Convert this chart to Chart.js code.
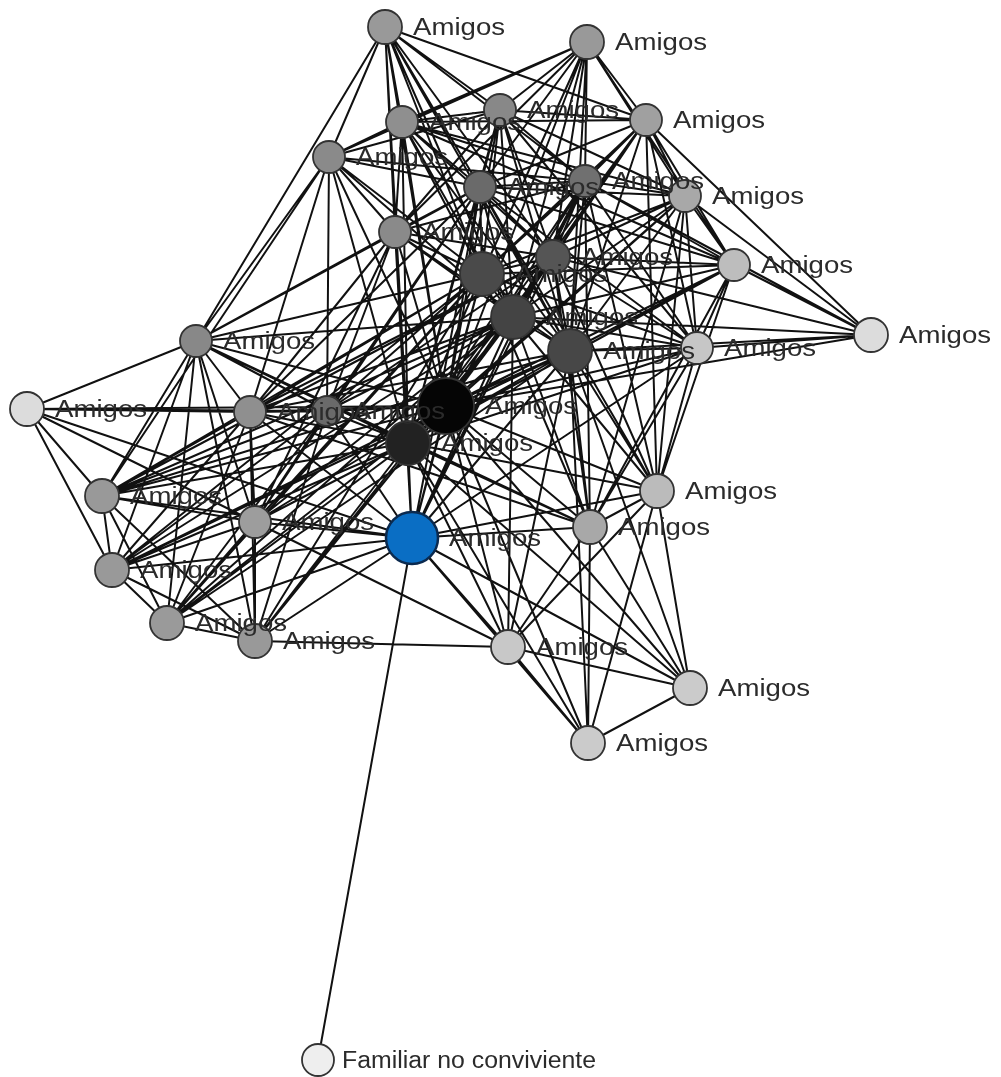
<!DOCTYPE html>
<html>
<head>
<meta charset="utf-8">
<script src="https://cdn.jsdelivr.net/npm/chart.js@4"></script>
<style>
  html, body { margin: 0; padding: 0; background: #fff; }
  #wrap { width: 1001px; height: 1077px; position: relative; }
</style>
</head>
<body>
<div id="wrap"><canvas id="net"></canvas></div>
<script>
// node positions (layout coordinates), labels, sizes and shades
var nodeX = [385, 587, 402, 500, 646, 329, 480, 585, 685, 395, 553, 482, 734, 513, 570, 697, 871, 196, 27, 250, 327, 446, 408, 657, 102, 255, 590, 412, 112, 167, 255, 508, 690, 588, 318];
var nodeY = [27, 42, 122, 110, 120, 157, 187, 181, 196, 232, 257, 274, 265, 317, 351, 348, 335, 341, 409, 412, 411, 406, 443, 491, 496, 522, 527, 538, 570, 623, 641, 647, 688, 743, 1060];
var nodeLabels = ["Amigos", "Amigos", "Amigos", "Amigos", "Amigos", "Amigos", "Amigos", "Amigos", "Amigos", "Amigos",
                  "Amigos", "Amigos", "Amigos", "Amigos", "Amigos", "Amigos", "Amigos", "Amigos", "Amigos", "Amigos",
                  "Amigos", "Amigos", "Amigos", "Amigos", "Amigos", "Amigos", "Amigos", "Amigos", "Amigos", "Amigos",
                  "Amigos", "Amigos", "Amigos", "Amigos", "Familiar no conviviente"];
var nodeSize = [17, 17, 16, 16, 16, 16, 16, 16, 16, 16, 17, 22, 16, 22, 22, 16, 17, 16, 17, 16,
                15, 28, 22, 17, 17, 16, 17, 26, 17, 17, 17, 17, 17, 17, 16];
var nodeColor = ["#999999", "#999999", "#8f8f8f", "#888888", "#a0a0a0", "#8a8a8a", "#6a6a6a", "#707070", "#a8a8a8", "#8a8a8a",
                 "#555555", "#4a4a4a", "#bdbdbd", "#444444", "#474747", "#c6c6c6", "#dcdcdc", "#888888", "#dcdcdc", "#8f8f8f",
                 "#6a6a6a", "#050505", "#222222", "#bbbbbb", "#999999", "#9d9d9d", "#a8a8a8", "#0a6ec4", "#999999", "#9a9a9a",
                 "#999999", "#c8c8c8", "#cbcbcb", "#cbcbcb", "#eeeeee"];

// ties: each node's list holds the higher-numbered nodes it is linked to
var ties = [
  [2, 3, 4, 5, 6, 7, 9, 10, 11, 13, 14, 17, 21, 22],
  [2, 3, 4, 5, 6, 7, 8, 9, 10, 11, 12, 13, 14, 21],
  [3, 4, 5, 6, 7, 8, 9, 10, 11, 12, 13, 14, 21, 22],
  [4, 5, 6, 7, 8, 9, 10, 11, 13, 14, 15, 21, 22],
  [6, 7, 8, 10, 11, 12, 13, 14, 15, 16, 21, 22, 23],
  [6, 7, 9, 11, 13, 17, 19, 20, 21, 22, 24],
  [7, 8, 9, 10, 11, 12, 13, 14, 15, 17, 19, 20, 21, 22, 23, 25, 27],
  [8, 9, 10, 11, 12, 13, 14, 15, 16, 21, 22, 23, 26, 27],
  [10, 11, 12, 13, 14, 15, 16, 21, 22, 23, 26],
  [10, 11, 13, 14, 17, 19, 20, 21, 22, 25, 27],
  [11, 12, 13, 14, 15, 16, 19, 20, 21, 22, 23, 24, 26, 27],
  [12, 13, 14, 15, 17, 19, 20, 21, 22, 24, 25, 26, 27, 28, 29, 30],
  [13, 14, 15, 16, 21, 22, 23, 26],
  [14, 15, 16, 17, 19, 20, 21, 22, 23, 24, 25, 26, 27, 28, 29, 30, 31],
  [15, 16, 19, 21, 22, 23, 24, 26, 27, 28, 29, 31, 32, 33],
  [16, 21, 22, 23, 26, 27],
  [21],
  [18, 19, 20, 21, 22, 24, 25, 26, 28, 29, 30],
  [19, 20, 21, 24, 25, 27, 28],
  [20, 21, 22, 24, 25, 26, 27, 28, 29, 30],
  [21, 22, 24, 25, 27, 28, 29, 30],
  [22, 23, 24, 25, 26, 27, 28, 29, 30, 31, 32, 33],
  [23, 24, 25, 26, 27, 28, 29, 30, 31, 32, 33],
  [26, 27, 31, 32, 33],
  [25, 27, 28, 29, 30],
  [27, 28, 29, 30, 31],
  [27, 31, 32, 33],
  [28, 29, 30, 31, 32, 33, 34],
  [29, 30],
  [30],
  [31],
  [32, 33],
  [33],
  [],
  []
];

var nodePoints = [];
for (var i = 0; i < nodeX.length; i++) {
    nodePoints.push({x: nodeX[i], y: nodeY[i]});
}

// one line dataset for all ties, broken by empty points
var tiePoints = [];
for (var a = 0; a < ties.length; a++) {
    for (var k = 0; k < ties[a].length; k++) {
        var b = ties[a][k];
        tiePoints.push({x: nodeX[a], y: nodeY[a]});
        tiePoints.push({x: nodeX[b], y: nodeY[b]});
        tiePoints.push({x: null, y: null});
    }
}

var borderCols = nodeColor.map(function (c, i) { return i == 27 ? "#0b2a4f" : "#333333"; });
var borderW = nodeColor.map(function (c, i) { return i == 27 ? 2.5 : 1.8; });

var labelPlugin = {
    id: 'nodeLabels',
    afterDatasetsDraw: function (chart) {
        var ctx = chart.ctx;
        var xs = chart.scales.x, ys = chart.scales.y;
        ctx.save();
        ctx.fillStyle = '#2b2b2b';
        ctx.font = '23px "Liberation Sans", Arial, sans-serif';
        ctx.textBaseline = 'alphabetic';
        for (var i = 0; i < nodeLabels.length; i++) {
            var px = xs.getPixelForValue(nodeX[i]) + nodeSize[i] + (i == 34 ? 8 : 11);
            var py = ys.getPixelForValue(nodeY[i]) + 8;
            ctx.save();
            ctx.translate(px, py);
            ctx.scale(i == 34 ? 1.08 : 1.2, 1);
            ctx.fillText(nodeLabels[i], 0, 0);
            ctx.restore();
        }
        ctx.restore();
    }
};

var ctx = document.getElementById('net').getContext('2d');
var netChart = new Chart(ctx, {
    type: 'scatter',
    data: {
        datasets: [
            {
                label: 'nodes',
                data: nodePoints,
                pointRadius: nodeSize,
                backgroundColor: nodeColor,
                borderColor: borderCols,
                borderWidth: borderW,
                clip: false,
                order: 1
            },
            {
                label: 'ties',
                data: tiePoints,
                showLine: true,
                spanGaps: false,
                pointRadius: 0,
                borderColor: '#111111',
                borderWidth: 2,
                order: 2
            }
        ]
    },
    options: {
        responsive: true,
        maintainAspectRatio: false,
        animation: false,
        events: [],
        layout: { padding: 0, autoPadding: false },
        plugins: { legend: { display: false }, tooltip: { enabled: false } },
        scales: {
            x: { type: 'linear', min: 0, max: 1001, display: false },
            y: { type: 'linear', min: 0, max: 1077, reverse: true, display: false }
        }
    },
    plugins: [labelPlugin]
});
</script>
</body>
</html>
